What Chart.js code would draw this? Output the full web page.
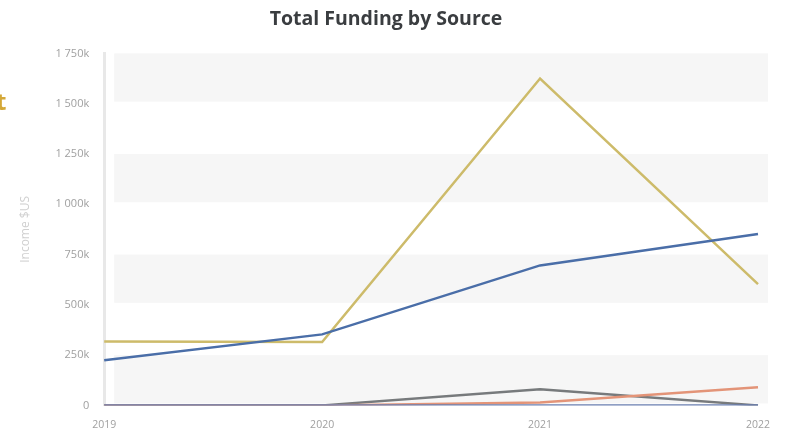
<!DOCTYPE html>
<html>
<head>
<meta charset="utf-8">
<script src="https://cdn.jsdelivr.net/npm/chart.js@4.4.1/dist/chart.umd.min.js"></script>
<style>
  html, body { margin: 0; padding: 0; background: #fff; }
  #wrap { position: relative; width: 786px; height: 429px; overflow: hidden; }
  #cut { position: absolute; left: -4px; top: 84px; font: bold 24px "Open Sans", sans-serif; color: #d4a838; }
</style>
</head>
<body>
<div id="wrap">
  <canvas id="fundingChart" width="786" height="429"></canvas>
  <span id="cut">t</span>
</div>
<script>
const years = ["2019", "2020", "2021", "2022"];
const sourceNames = ["Source A", "Source B", "Source C", "Source D", "Source E"];
const goldValues = [318, 315, 1625, 603];
const blueValues = [224, 353, 696, 852];
const greyValues = [0, 0, 80, 0];
const orangeValues = [0, 0, 15, 90];
const baseValues = [0, 0, 0, 0];
const yTicks = [0, 250, 500, 750, 1000, 1250, 1500, 1750];

// alternating light bands behind the plot
const bandPlugin = {
  id: "bands",
  beforeDatasetsDraw(chart) {
    const ctx = chart.ctx;
    const y = chart.scales.y;
    const area = chart.chartArea;
    ctx.save();
    ctx.fillStyle = "#f6f6f6";
    for (let i = 0; i < yTicks.length - 1; i += 2) {
      let top = y.getPixelForValue(yTicks[i + 1]);
      let bottom = y.getPixelForValue(yTicks[i]);
      ctx.fillRect(area.left + 10, top, area.right - area.left, bottom - top - 2);
    }
    ctx.restore();
  }
};

function formatTick(v) {
  if (v === 0) return "0";
  if (v >= 1000) return Math.floor(v / 1000) + " " + String(v % 1000).padStart(3, "0") + "k";
  return v + "k";
}

new Chart(document.getElementById("fundingChart").getContext("2d"), {
  type: "line",
  data: {
    labels: years,
    datasets: [
      { label: sourceNames[0], data: goldValues, borderColor: "#cdbb6a", borderWidth: 2.5 },
      { label: sourceNames[1], data: blueValues, borderColor: "#4a6ea8", borderWidth: 2.5 },
      { label: sourceNames[2], data: greyValues, borderColor: "#777a7c", borderWidth: 2.5 },
      { label: sourceNames[3], data: orangeValues, borderColor: "#e39478", borderWidth: 2.5 },
      { label: sourceNames[4], data: baseValues, borderColor: "#6a7fb0", borderWidth: 2.5 }
    ].reverse()
  },
  options: {
    responsive: false,
    animation: false,
    layout: { padding: { left: 14, right: 28, top: 0, bottom: -7 } },
    elements: { point: { radius: 0 }, line: { tension: 0 } },
    plugins: {
      legend: { display: false },
      tooltip: { enabled: false },
      title: {
        display: true,
        text: "Total Funding by Source",
        color: "#3a3d40",
        font: { family: "Open Sans", size: 19.5, weight: "bold" },
        padding: { top: 8, bottom: 22 }
      }
    },
    scales: {
      x: {
        offset: false,
        grid: { display: false },
        border: { display: false },
        ticks: { color: "#a0a0a0", font: { family: "Open Sans", size: 10.5 }, padding: 5, maxRotation: 0 }
      },
      y: {
        min: 0,
        max: 1750,
        afterBuildTicks(axis) { axis.ticks = yTicks.map(v => ({ value: v })); },
        grid: { display: false },
        border: { display: true, color: "#e8e8e8", width: 3 },
        ticks: { color: "#a0a0a0", font: { family: "Open Sans", size: 11 }, padding: 7, callback: formatTick },
        title: { display: true, text: "Income $US", color: "#d0d0d0", font: { family: "Open Sans", size: 12 }, padding: { bottom: 16 } }
      }
    }
  },
  plugins: [bandPlugin]
});
</script>
</body>
</html>
